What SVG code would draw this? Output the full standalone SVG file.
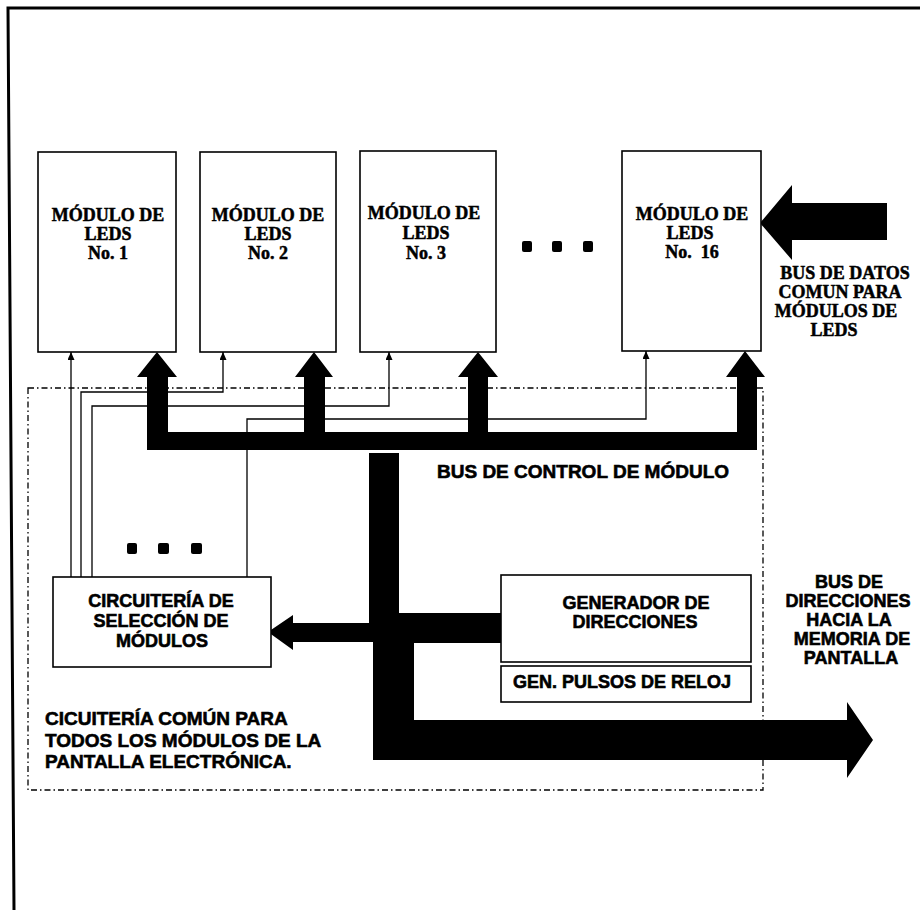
<svg xmlns="http://www.w3.org/2000/svg" width="920" height="910" viewBox="0 0 920 910">
<defs>
<style>
.box{fill:#fff;stroke:#000;stroke-width:1.6}
.wire{fill:none;stroke:#000;stroke-width:1.3}
.bus{fill:#000;stroke:none}
.dot{fill:#000}
.frame{fill:none;stroke:#000;stroke-width:3}
.region{fill:none;stroke:#000;stroke-width:1.3;stroke-dasharray:6 3 1.5 3}
.serif{font-family:"Liberation Serif","Times New Roman",serif;font-weight:bold;font-size:18px;text-anchor:middle;fill:#000;stroke:#000;stroke-width:0.5}
.sans{font-family:"Liberation Sans",Arial,sans-serif;font-weight:bold;font-size:18px;fill:#000;stroke:#000;stroke-width:0.6}
.mid{text-anchor:middle}
</style>
<marker id="ah" markerWidth="8" markerHeight="7" refX="8" refY="3.5" orient="auto" markerUnits="userSpaceOnUse">
<path d="M0,0 L8,3.5 L0,7 Z" fill="#000"/>
</marker>
</defs>
<rect width="920" height="910" fill="#fff"/>
<polyline class="frame" points="920,8 8,8 14,910"/>
<rect class="region" x="28" y="388" width="735" height="402"/>

<g id="connectors">
<path class="wire" d="M71,577 V352" marker-end="url(#ah)"/>
<path class="wire" d="M81,577 V392 H223 V352" marker-end="url(#ah)"/>
<path class="wire" d="M92,577 V406 H389 V352" marker-end="url(#ah)"/>
<path class="wire" d="M247,577 V419 H646 V351" marker-end="url(#ah)"/>
<path id="bus-control" class="bus" d="M147,450 V377 H137 L157,352 L177,377 H168 V432 H304 V377 H295 L314,352 L333,377 H325 V432 H468 V377 H458 L478,352 L498,377 H488 V432 H737 V377 H726 L745,351 L765,377 H757 V450 Z"/>
<path id="bus-direcciones" class="bus" d="M369,453 H399 V613 H501 V643 H414 V720 H847 V702 L873,740 L847,778 V760 H373 V642 H293 V650 L268,632 L293,615 V623 H369 Z"/>
<path id="bus-datos" class="bus" d="M760,223 L792,185 V203 H887 V240 H792 V260 Z"/>
</g>

<g id="modulo1">
<rect class="box" x="38" y="152" width="138" height="200"/>
<text class="serif" x="108" y="221">MÓDULO DE</text>
<text class="serif" x="108" y="240">LEDS</text>
<text class="serif" x="108" y="259">No. 1</text>
</g>
<g id="modulo2">
<rect class="box" x="200" y="152" width="136" height="200"/>
<text class="serif" x="268" y="221">MÓDULO DE</text>
<text class="serif" x="268" y="240">LEDS</text>
<text class="serif" x="268" y="259">No. 2</text>
</g>
<g id="modulo3">
<rect class="box" x="360" y="151" width="136" height="201"/>
<text class="serif" x="424" y="219">MÓDULO DE</text>
<text class="serif" x="426" y="239">LEDS</text>
<text class="serif" x="426" y="259">No. 3</text>
</g>
<g id="dots-top">
<rect class="dot" x="522" y="241" width="10" height="11" rx="2"/>
<rect class="dot" x="552" y="241" width="10" height="11" rx="2"/>
<rect class="dot" x="583" y="241" width="10" height="11" rx="2"/>
</g>
<g id="modulo16">
<rect class="box" x="622" y="151" width="139" height="200"/>
<text class="serif" x="692" y="220">MÓDULO DE</text>
<text class="serif" x="690" y="239">LEDS</text>
<text class="serif" x="692" y="258" xml:space="preserve">No.  16</text>
</g>
<g id="label-datos">
<text class="serif" x="845" y="279">BUS DE DATOS</text>
<text class="serif" x="840" y="298">COMUN PARA</text>
<text class="serif" x="836" y="317">MÓDULOS DE</text>
<text class="serif" x="834" y="336">LEDS</text>
</g>
<g id="label-control">
<text class="sans" x="437" y="478" style="font-size:19px">BUS DE CONTROL DE MÓDULO</text>
</g>
<g id="dots-bottom">
<rect class="dot" x="127" y="543" width="10" height="11" rx="2"/>
<rect class="dot" x="158" y="543" width="11" height="11" rx="2"/>
<rect class="dot" x="191" y="543" width="11" height="11" rx="2"/>
</g>
<g id="circuiteria">
<rect class="box" x="53" y="577" width="218" height="90"/>
<text class="sans mid" x="161" y="607">CIRCUITERÍA DE</text>
<text class="sans mid" x="161" y="627">SELECCIÓN DE</text>
<text class="sans mid" x="162" y="647">MÓDULOS</text>
</g>
<g id="generador">
<rect class="box" x="501" y="575" width="250" height="87"/>
<text class="sans mid" x="636" y="609">GENERADOR DE</text>
<text class="sans mid" x="635" y="628">DIRECCIONES</text>
</g>
<g id="pulsos">
<rect class="box" x="501" y="666" width="250" height="36"/>
<text class="sans mid" x="622" y="688">GEN. PULSOS DE RELOJ</text>
</g>
<g id="label-direcciones">
<text class="sans mid" x="849" y="588">BUS DE</text>
<text class="sans mid" x="848" y="607">DIRECCIONES</text>
<text class="sans mid" x="849" y="626">HACIA LA</text>
<text class="sans mid" x="852" y="645">MEMORIA DE</text>
<text class="sans mid" x="851" y="664">PANTALLA</text>
</g>
<g id="label-comun">
<text class="sans" x="45" y="725" style="font-size:19px">CICUITERÍA COMÚN PARA</text>
<text class="sans" x="45" y="747" style="font-size:19px">TODOS LOS MÓDULOS DE LA</text>
<text class="sans" x="45" y="768" style="font-size:19px">PANTALLA ELECTRÓNICA.</text>
</g>
</svg>
